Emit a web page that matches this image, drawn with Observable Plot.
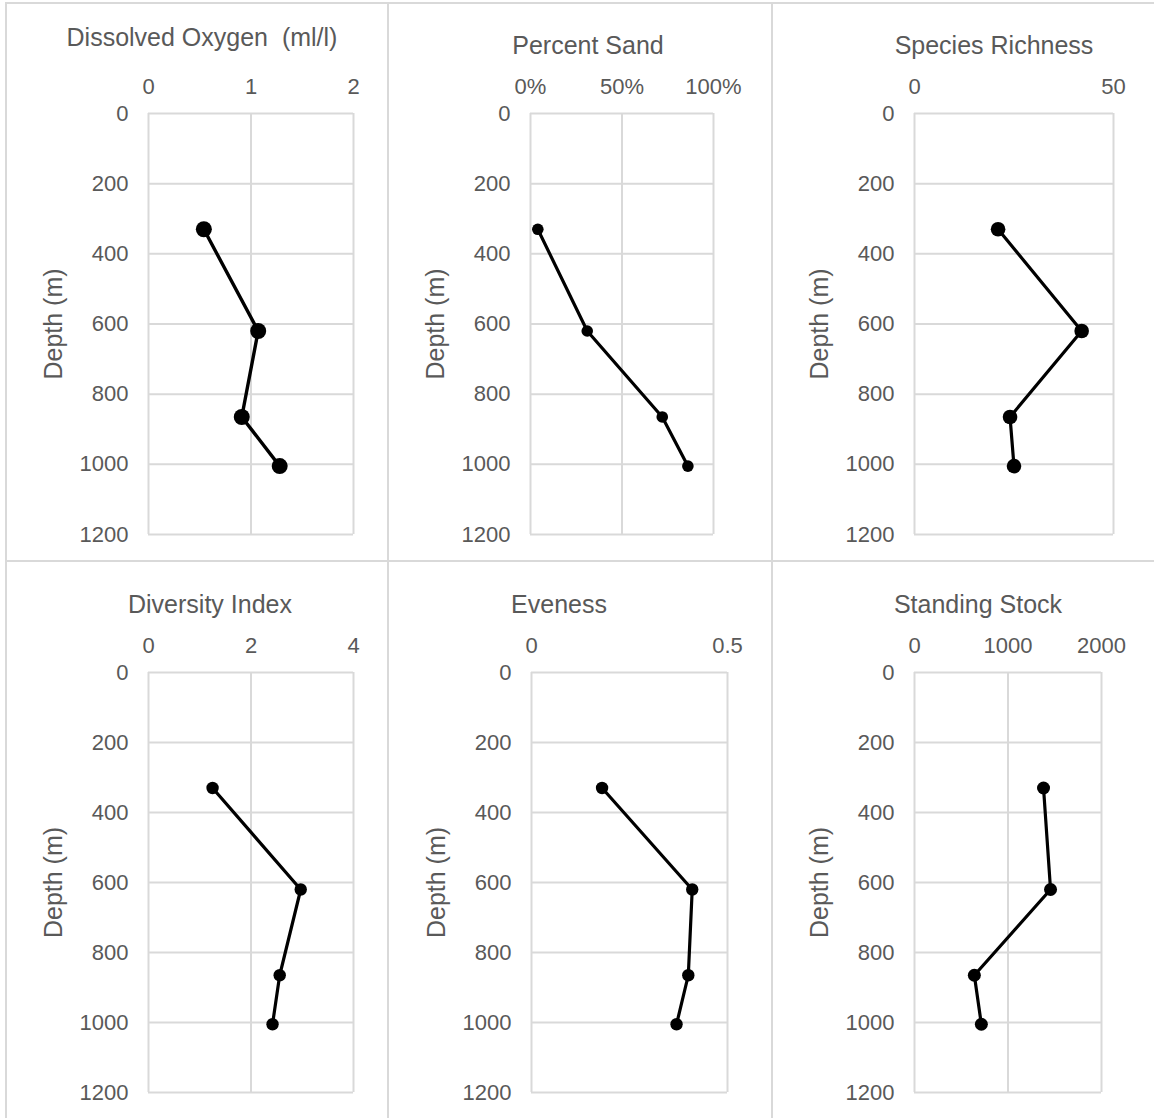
<!DOCTYPE html>
<html><head><meta charset="utf-8">
<script src="https://cdn.jsdelivr.net/npm/d3@7"></script>
<script src="https://cdn.jsdelivr.net/npm/@observablehq/plot@0.6"></script>
<style>
body{margin:0;background:#fff;}
#root{position:relative;width:1154px;height:1118px;overflow:hidden;background:#fff;font-family:"Liberation Sans",Arial,sans-serif;color:#595959;}
.sep{position:absolute;background:#d9d9d9;}
.title{position:absolute;white-space:pre;font-size:25px;line-height:25px;text-align:center;width:400px;color:#595959;}
.panel{position:absolute;}
</style></head><body><div id="root"></div>
<script>
// ---- data ----
const depth = [330, 620, 865, 1005];
const depthTicks = [0, 200, 400, 600, 800, 1000, 1200];
const dissolvedOxygen = [0.54, 1.07, 0.91, 1.28];
const oxygenTicks = [0, 1, 2];
const percentSand = [0.04, 0.31, 0.72, 0.86];
const sandTicks = [0, 0.5, 1];
const speciesRichness = [21, 42, 24, 25];
const richnessTicks = [0, 50];
const diversityIndex = [1.25, 2.97, 2.56, 2.42];
const diversityTicks = [0, 2, 4];
const evenness = [0.18, 0.41, 0.40, 0.37];
const evennessTicks = [0, 0.5];
const standingStock = [1380, 1455, 640, 715];
const stockTicks = [0, 1000, 2000];
const titles = ["Dissolved Oxygen  (ml/l)", "Percent Sand", "Species Richness", "Diversity Index", "Eveness", "Standing Stock"];
const depthLabel = "Depth (m)";

// ---- layout ----
const root = document.getElementById("root");
function sep(x, y, w, h) {
  const d = document.createElement("div");
  d.className = "sep";
  Object.assign(d.style, {left: x + "px", top: y + "px", width: w + "px", height: h + "px"});
  root.appendChild(d);
}
sep(5, 2, 2, 1116);
sep(5, 2, 1149, 2);
sep(387, 2, 2, 1116);
sep(771, 2, 2, 1116);
sep(5, 560, 1149, 2);

const cols = [{x0: 0, w: 388}, {x0: 389, w: 383}, {x0: 773, w: 381}];
const rows = [{y0: 0, h: 560, top: 113, bottom: 534}, {y0: 562, h: 556, top: 672, bottom: 1092}];
const num = d => String(d);
const panels = [
  {values: dissolvedOxygen, ticks: oxygenTicks, fmt: num, col: 0, row: 0, left: 148, right: 353, r: 8, sw: 3.4, tx: 202, tb: 45},
  {values: percentSand, ticks: sandTicks, fmt: d => Math.round(d * 100) + "%", col: 1, row: 0, left: 530, right: 713, r: 5.8, sw: 3.2, tx: 588, tb: 53},
  {values: speciesRichness, ticks: richnessTicks, fmt: num, col: 2, row: 0, left: 914, right: 1113, r: 7.3, sw: 3.2, tx: 994, tb: 53},
  {values: diversityIndex, ticks: diversityTicks, fmt: num, col: 0, row: 1, left: 148, right: 353, r: 6.2, sw: 3.2, tx: 210, tb: 612},
  {values: evenness, ticks: evennessTicks, fmt: num, col: 1, row: 1, left: 531, right: 727, r: 6.2, sw: 3.2, tx: 559, tb: 612},
  {values: standingStock, ticks: stockTicks, fmt: num, col: 2, row: 1, left: 914, right: 1101, r: 6.5, sw: 3.2, tx: 978, tb: 612}
];

panels.forEach((p, i) => {
  const c = cols[p.col], rw = rows[p.row];
  const data = depth.map((d, k) => ({depth: d, value: p.values[k]}));
  const chart = Plot.plot({
    width: c.w, height: rw.h,
    marginLeft: p.left - c.x0, marginRight: c.x0 + c.w - p.right,
    marginTop: rw.top - rw.y0, marginBottom: rw.y0 + rw.h - rw.bottom,
    style: {fontFamily: '"Liberation Sans", Arial, sans-serif', fontSize: "22px", color: "#595959", background: "transparent", overflow: "visible"},
    x: {domain: [p.ticks[0], p.ticks[p.ticks.length - 1]]},
    y: {domain: [0, 1200], reverse: true},
    marks: [
      Plot.gridX(p.ticks, {stroke: "#d9d9d9", strokeOpacity: 1, strokeWidth: 2}),
      Plot.gridY(depthTicks, {stroke: "#d9d9d9", strokeOpacity: 1, strokeWidth: 2}),
      Plot.axisX(p.ticks, {anchor: "top", tickSize: 0, tickPadding: 20, tickFormat: p.fmt, label: null}),
      Plot.axisY(depthTicks, {anchor: "left", tickSize: 0, tickPadding: 20, tickFormat: num, label: null}),
      Plot.axisY([], {anchor: "left", tickSize: 0, label: depthLabel, labelAnchor: "center", labelOffset: 104, labelArrow: "none", fontSize: 25}),
      Plot.line(data, {x: "value", y: "depth", stroke: "#000", strokeWidth: p.sw, strokeLinejoin: "round"}),
      Plot.dot(data, {x: "value", y: "depth", r: p.r, fill: "#000", stroke: "none"})
    ]
  });
  chart.classList.add("panel");
  chart.style.left = c.x0 + "px";
  chart.style.top = rw.y0 + "px";
  root.appendChild(chart);

  const t = document.createElement("div");
  t.className = "title";
  t.textContent = titles[i];
  t.style.left = (p.tx - 200) + "px";
  t.style.top = (p.tb - 20) + "px";
  root.appendChild(t);
});
</script>
</body></html>
